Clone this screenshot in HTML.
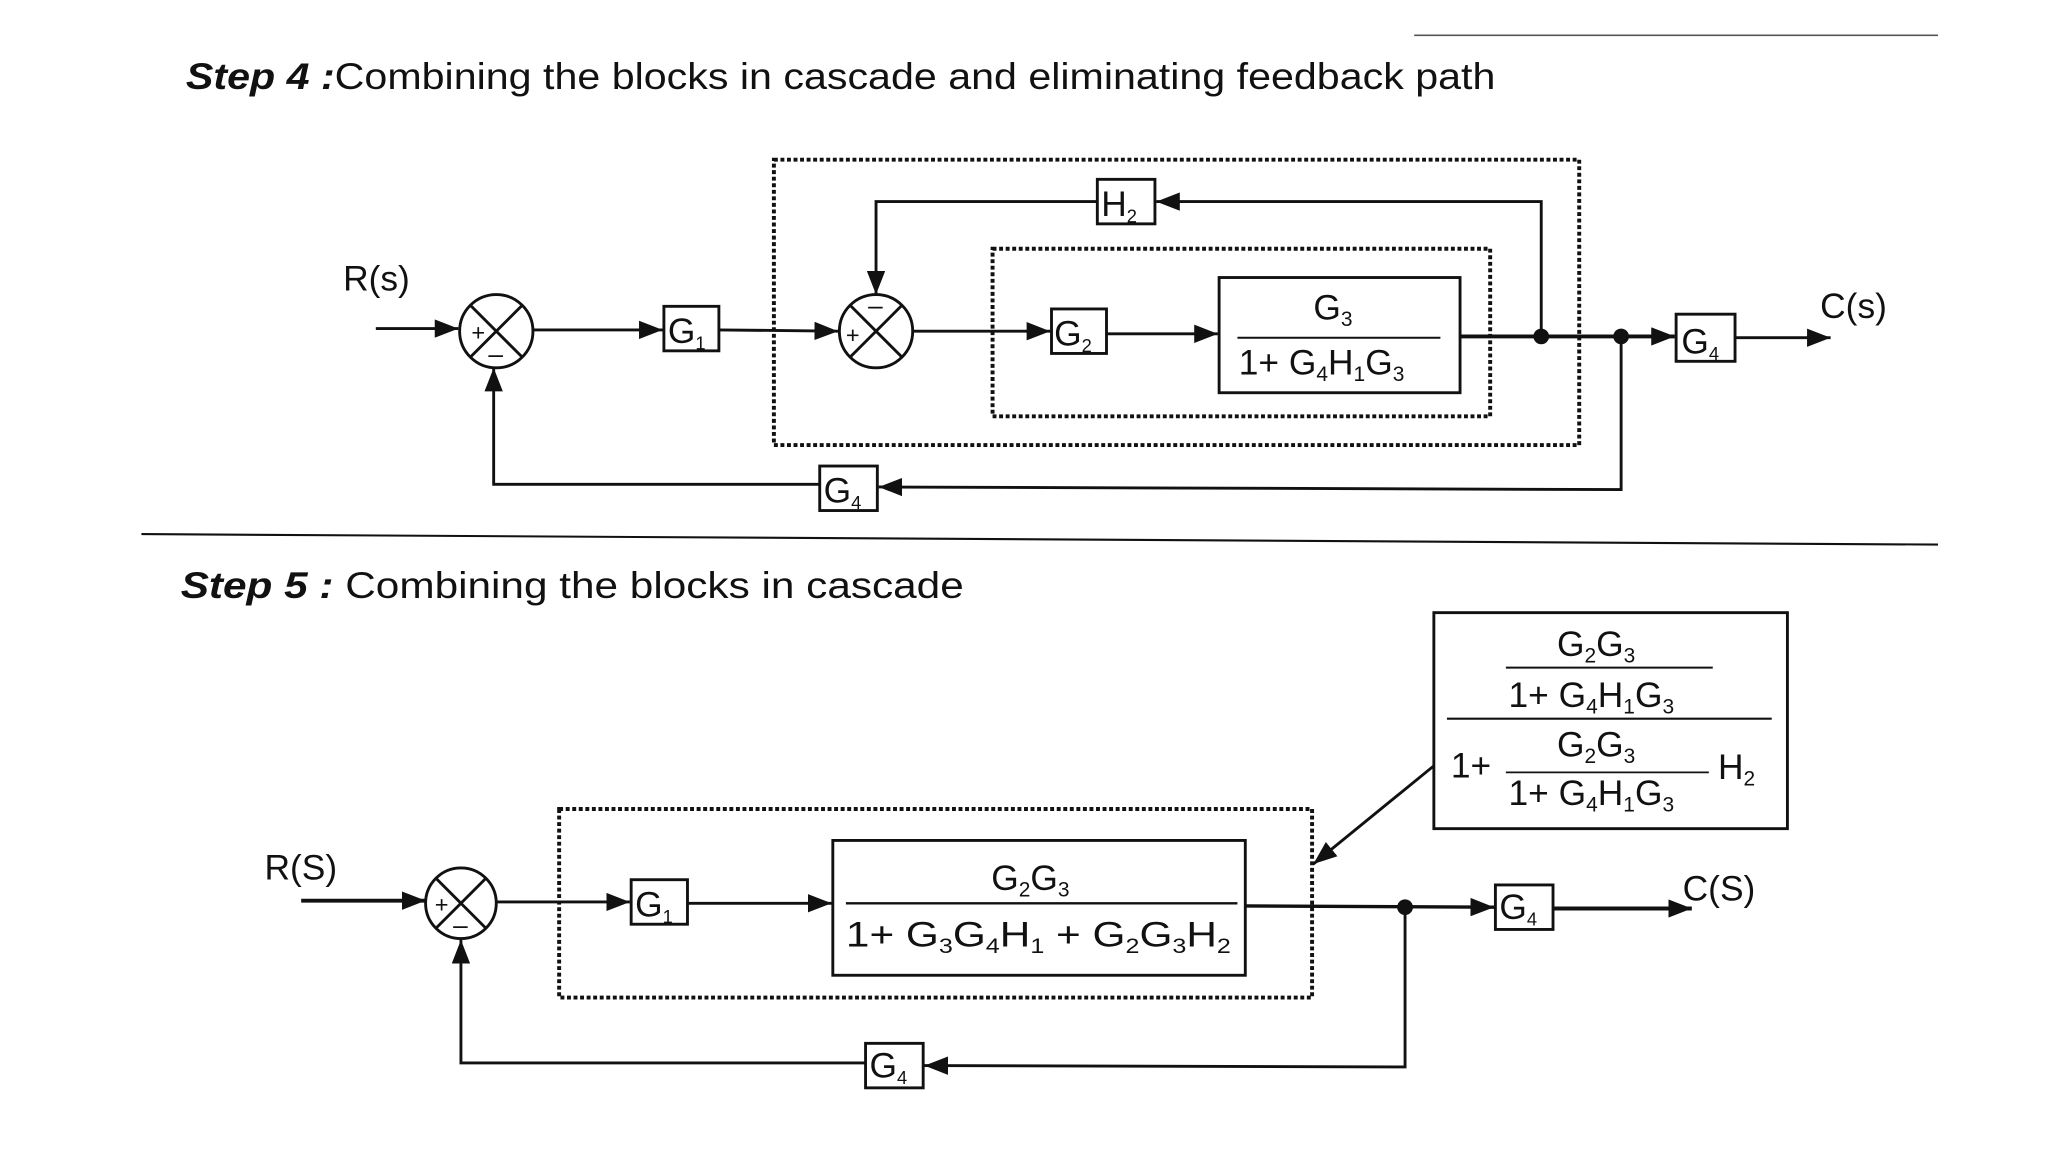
<!DOCTYPE html>
<html><head><meta charset="utf-8"><style>
html,body{margin:0;padding:0;background:#fff;}
svg{display:block;}
text{font-family:"Liberation Sans",Arial,sans-serif;fill:#111;}
</style></head><body>
<svg width="2048" height="1152" viewBox="0 0 1564 880" preserveAspectRatio="none" xmlns="http://www.w3.org/2000/svg">
<defs>
<marker id="b" markerWidth="20" markerHeight="14" refX="18" refY="7" orient="auto" markerUnits="userSpaceOnUse">
<path d="M0,0 L18,7 L0,14 z" fill="#111"/>
</marker>
</defs>
<g stroke="#111" fill="none" stroke-width="2.2">
<line x1="1080" y1="27" x2="1480" y2="27" stroke-width="1.2" stroke="#555"/>
<line x1="108" y1="408" x2="1480" y2="416" stroke-width="1.6"/>

<!-- STEP 4 -->
<rect x="591" y="122" width="615" height="218" stroke-dasharray="3,2" stroke-width="3"/>
<rect x="758" y="190" width="380" height="128" stroke-dasharray="3,2" stroke-width="3"/>
<line x1="287" y1="251" x2="350" y2="251" marker-end="url(#b)"/>
<circle cx="379" cy="253" r="28"/>
<line x1="359" y1="233" x2="399" y2="273"/><line x1="399" y1="233" x2="359" y2="273"/>
<line x1="407" y1="252" x2="506" y2="252" marker-end="url(#b)"/>
<rect x="507" y="234" width="42" height="34"/>
<line x1="549" y1="252" x2="640" y2="253" marker-end="url(#b)"/>
<circle cx="669" cy="253" r="28"/>
<line x1="649" y1="233" x2="689" y2="273"/><line x1="689" y1="233" x2="649" y2="273"/>
<line x1="697" y1="253" x2="802" y2="253" marker-end="url(#b)"/>
<rect x="803" y="236" width="42" height="34"/>
<line x1="845" y1="255" x2="930" y2="255" marker-end="url(#b)"/>
<rect x="931" y="212" width="184" height="88"/>
<line x1="945" y1="258" x2="1100" y2="258" stroke-width="1.6"/>
<line x1="1115" y1="257" x2="1279" y2="257" stroke-width="3" marker-end="url(#b)"/>
<rect x="1280" y="240" width="45" height="36"/>
<line x1="1325" y1="258" x2="1398" y2="258" marker-end="url(#b)"/>
<polyline points="1177,257 1177,154 883,154" marker-end="url(#b)"/>
<rect x="838" y="137" width="44" height="34"/>
<polyline points="838,154 669,154 669,225" marker-end="url(#b)"/>
<polyline points="1238,257 1238,374 671,372" marker-end="url(#b)"/>
<rect x="626" y="356" width="44" height="34"/>
<polyline points="626,370 377,370 377,281" marker-end="url(#b)"/>

<!-- STEP 5 -->
<rect x="1095" y="468" width="270" height="165"/>
<line x1="1150" y1="510" x2="1308" y2="510" stroke-width="1.6"/>
<line x1="1105" y1="549" x2="1353" y2="549" stroke-width="1.6"/>
<line x1="1150" y1="590" x2="1305" y2="590" stroke-width="1.4"/>
<line x1="1095" y1="585" x2="1003" y2="660" marker-end="url(#b)"/>
<rect x="427" y="618" width="575" height="144" stroke-dasharray="3,2" stroke-width="3"/>
<line x1="230" y1="688" x2="325" y2="688" stroke-width="3" marker-end="url(#b)"/>
<circle cx="352" cy="690" r="27"/>
<line x1="333" y1="671" x2="371" y2="709"/><line x1="371" y1="671" x2="333" y2="709"/>
<line x1="379" y1="689" x2="481" y2="689" marker-end="url(#b)"/>
<rect x="482" y="672" width="43" height="34"/>
<line x1="525" y1="690" x2="635" y2="690" marker-end="url(#b)"/>
<rect x="636" y="642" width="315" height="103"/>
<line x1="646" y1="690" x2="945" y2="690" stroke-width="1.8"/>
<line x1="951" y1="692" x2="1141" y2="693" stroke-width="2.6" marker-end="url(#b)"/>
<rect x="1142" y="676" width="44" height="34"/>
<line x1="1186" y1="694" x2="1292" y2="694" stroke-width="3" marker-end="url(#b)"/>
<polyline points="1073,693 1073,815 706,814" marker-end="url(#b)"/>
<rect x="661" y="797" width="44" height="34"/>
<polyline points="661,812 352,812 352,718" marker-end="url(#b)"/>
</g>
<g fill="#111">
<circle cx="1177" cy="257" r="6"/><circle cx="1238" cy="257" r="6"/>
<circle cx="1073" cy="693" r="6"/>
</g>

<g font-size="27">
<text x="142" y="68" font-size="28" textLength="1000" lengthAdjust="spacingAndGlyphs"><tspan font-weight="bold" font-style="italic">Step 4 :</tspan>Combining the blocks in cascade and eliminating feedback path</text>
<text x="262" y="222">R(s)</text>
<text x="1390" y="243">C(s)</text>
<text x="360" y="260" font-size="18">+</text>
<text x="373" y="277" font-size="20">–</text>
<text x="646" y="262" font-size="18">+</text>
<text x="663" y="240" font-size="20">–</text>
<text x="510" y="262">G<tspan font-size="14" dy="5">1</tspan></text>
<text x="805" y="264">G<tspan font-size="14" dy="5">2</tspan></text>
<text x="841" y="165">H<tspan font-size="14" dy="5">2</tspan></text>
<text x="1284" y="270">G<tspan font-size="14" dy="5">4</tspan></text>
<text x="629" y="384">G<tspan font-size="14" dy="5">4</tspan></text>
<text x="1003" y="244">G<tspan font-size="16" dy="5">3</tspan></text>
<text x="946" y="286">1+ G<tspan font-size="16" dy="5">4</tspan><tspan dy="-5">H</tspan><tspan font-size="16" dy="5">1</tspan><tspan dy="-5">G</tspan><tspan font-size="16" dy="5">3</tspan></text>

<text x="138" y="457" font-size="28" textLength="598" lengthAdjust="spacingAndGlyphs"><tspan font-weight="bold" font-style="italic">Step 5 :</tspan> Combining the blocks in cascade</text>
<text x="202" y="672">R(S)</text>
<text x="1285" y="688">C(S)</text>
<text x="332" y="697" font-size="18">+</text>
<text x="346" y="713" font-size="20">–</text>
<text x="485" y="700">G<tspan font-size="14" dy="5">1</tspan></text>
<text x="1145" y="702">G<tspan font-size="14" dy="5">4</tspan></text>
<text x="664" y="823">G<tspan font-size="14" dy="5">4</tspan></text>
<text x="757" y="680">G<tspan font-size="16" dy="5">2</tspan><tspan dy="-5">G</tspan><tspan font-size="16" dy="5">3</tspan></text>
<text x="646" y="723" textLength="294" lengthAdjust="spacingAndGlyphs">1+ G<tspan font-size="16" dy="5">3</tspan><tspan dy="-5">G</tspan><tspan font-size="16" dy="5">4</tspan><tspan dy="-5">H</tspan><tspan font-size="16" dy="5">1</tspan><tspan dy="-5"> + G</tspan><tspan font-size="16" dy="5">2</tspan><tspan dy="-5">G</tspan><tspan font-size="16" dy="5">3</tspan><tspan dy="-5">H</tspan><tspan font-size="16" dy="5">2</tspan></text>
<text x="1189" y="501">G<tspan font-size="16" dy="5">2</tspan><tspan dy="-5">G</tspan><tspan font-size="16" dy="5">3</tspan></text>
<text x="1152" y="540">1+ G<tspan font-size="16" dy="5">4</tspan><tspan dy="-5">H</tspan><tspan font-size="16" dy="5">1</tspan><tspan dy="-5">G</tspan><tspan font-size="16" dy="5">3</tspan></text>
<text x="1108" y="594">1+</text>
<text x="1189" y="578">G<tspan font-size="16" dy="5">2</tspan><tspan dy="-5">G</tspan><tspan font-size="16" dy="5">3</tspan></text>
<text x="1152" y="615">1+ G<tspan font-size="16" dy="5">4</tspan><tspan dy="-5">H</tspan><tspan font-size="16" dy="5">1</tspan><tspan dy="-5">G</tspan><tspan font-size="16" dy="5">3</tspan></text>
<text x="1312" y="595">H<tspan font-size="16" dy="5">2</tspan></text>
</g>
</svg>
</body></html>
